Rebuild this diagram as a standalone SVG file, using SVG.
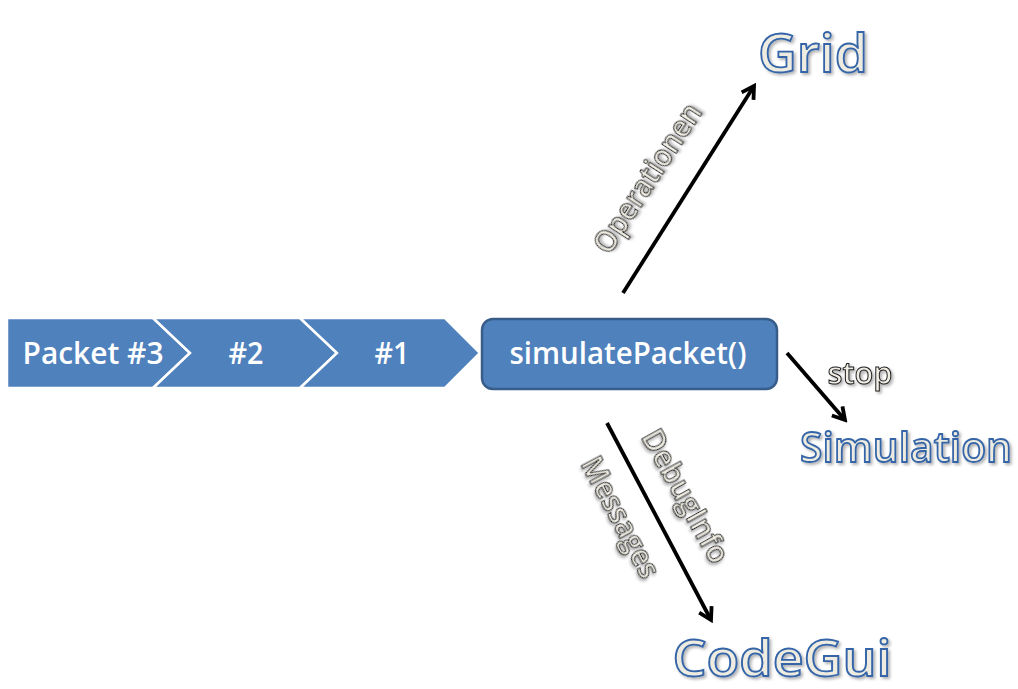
<svg xmlns="http://www.w3.org/2000/svg" width="1018" height="689" viewBox="0 0 1018 689">
<style>
.shape{fill:#4F81BD;stroke:#FFFFFF;stroke-width:2.5;stroke-linejoin:miter}
.box{fill:#4F81BD;stroke:#385D8A;stroke-width:2.5}
.wt{font-family:"Open Sans","Liberation Sans",sans-serif;fill:#FFFFFF;font-size:31px;font-weight:600;text-anchor:middle}
.big{font-family:"Open Sans","Liberation Sans",sans-serif;font-weight:600;fill:#EEECE1;stroke:#3465A8;stroke-width:1.8;text-anchor:middle;filter:url(#sh)}
.lbl{font-family:"Open Sans","Liberation Sans",sans-serif;font-weight:600;fill:#F0EEE4;stroke:#1A1A1A;stroke-width:1;font-size:31px;text-anchor:middle;filter:url(#sh)}
.arr{stroke:#000000;stroke-width:3.8;fill:none;marker-end:url(#ah)}
</style>
<defs>
<filter id="sh" x="-30%" y="-30%" width="160%" height="160%">
<feDropShadow dx="2" dy="2" stdDeviation="1.5" flood-color="#000000" flood-opacity="0.3"/>
</filter>
<marker id="ah" viewBox="0 0 18 18" refX="15" refY="9" markerWidth="18" markerHeight="18" markerUnits="userSpaceOnUse" orient="auto">
<path d="M3,2 L15,9 L3,16" fill="none" stroke="#000000" stroke-width="3.8"/>
</marker>
</defs>
<rect width="1018" height="689" fill="#FFFFFF"/>
<g id="packet3">
<path class="shape" d="M7,318 H153 L190,353 L153,388 H7 Z"/>
<text class="wt" x="93" y="364" textLength="141" lengthAdjust="spacingAndGlyphs">Packet #3</text>
</g>
<g id="packet2">
<path class="shape" d="M153,318 H300 L337,353 L300,388 H153 L190,353 Z"/>
<text class="wt" x="246" y="364" textLength="35" lengthAdjust="spacingAndGlyphs">#2</text>
</g>
<g id="packet1">
<path class="shape" d="M300,318 H445 L480,353 L445,388 H300 L337,353 Z"/>
<text class="wt" x="392" y="364" textLength="35" lengthAdjust="spacingAndGlyphs">#1</text>
</g>
<g id="simulatePacket">
<rect class="box" x="482" y="319" width="295" height="70" rx="11" ry="11"/>
<text class="wt" x="628" y="364" textLength="237" lengthAdjust="spacingAndGlyphs">simulatePacket()</text>
</g>
<g id="grid">
<text class="big" x="813" y="72" font-size="53" textLength="110" lengthAdjust="spacingAndGlyphs">Grid</text>
</g>
<g id="simulation">
<text class="big" x="906" y="462" font-size="42" textLength="212" lengthAdjust="spacingAndGlyphs">Simulation</text>
</g>
<g id="codegui">
<text class="big" x="782" y="676" font-size="50" textLength="219" lengthAdjust="spacingAndGlyphs">CodeGui</text>
</g>
<g id="connectors">
<line class="arr" x1="623" y1="293" x2="754" y2="86"/>
<line class="arr" x1="787" y1="353" x2="845" y2="420"/>
<line class="arr" x1="607" y1="423" x2="711" y2="620"/>
<text class="lbl" transform="translate(647,178) rotate(-57)" x="0" y="11" textLength="172" lengthAdjust="spacingAndGlyphs">Operationen</text>
<text class="lbl" x="860" y="384" textLength="65" lengthAdjust="spacingAndGlyphs">stop</text>
<text class="lbl" transform="translate(686,496) rotate(61)" x="0" y="11" textLength="148" lengthAdjust="spacingAndGlyphs">DebugInfo</text>
<text class="lbl" transform="translate(621,517) rotate(62)" x="0" y="11" textLength="133" lengthAdjust="spacingAndGlyphs">Messages</text>
</g>
</svg>
